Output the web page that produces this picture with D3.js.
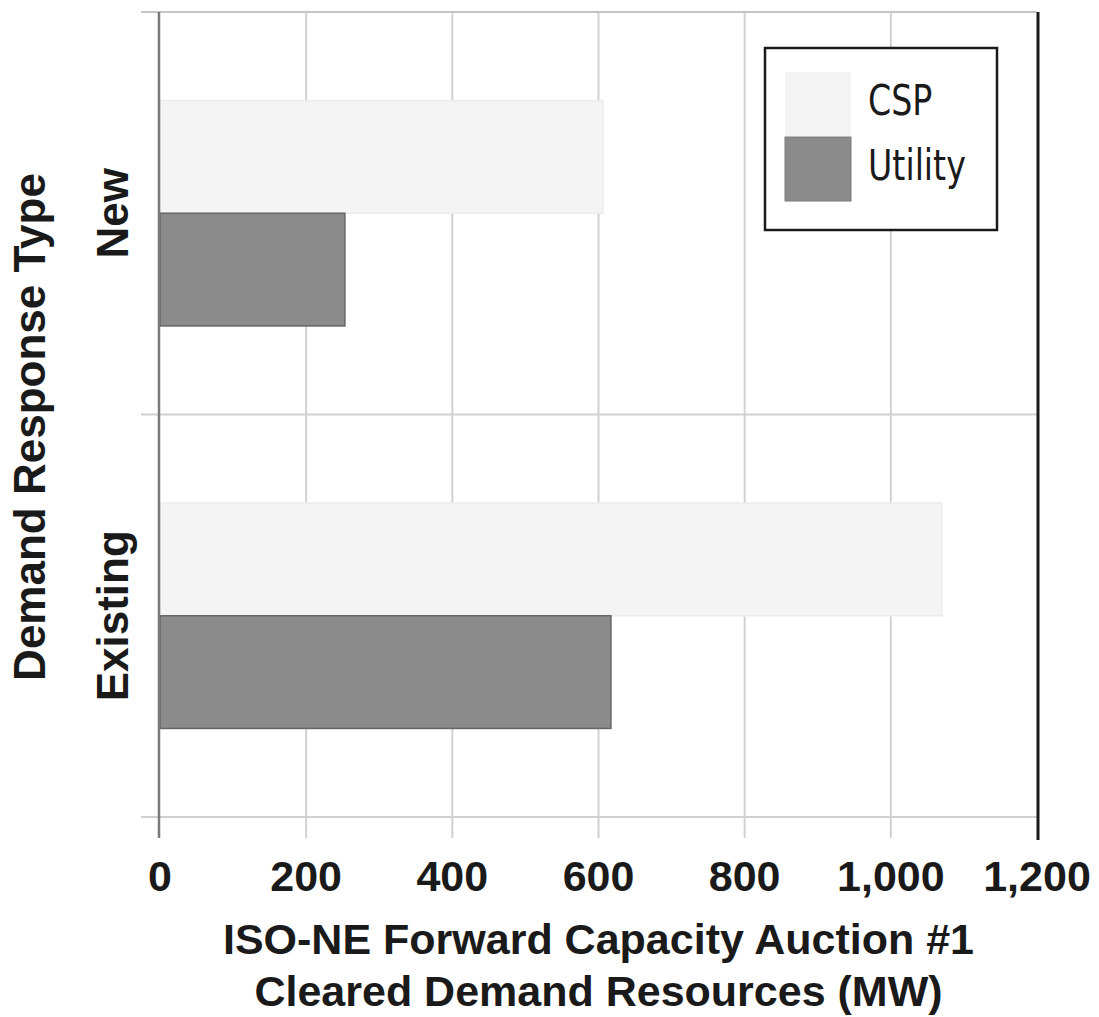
<!DOCTYPE html>
<html>
<head>
<meta charset="utf-8">
<script src="https://cdn.jsdelivr.net/npm/d3@7"></script>
<style>
  html, body { margin: 0; padding: 0; background: #fff; }
  svg { display: block; }
</style>
</head>
<body>
<svg id="chart" width="1099" height="1017"></svg>
<script>
// Cleared demand resources (MW) by demand response type
const categories = ["New", "Existing"];
const seriesNames = ["CSP", "Utility"];
const cspValues = [606, 1070];
const utilityValues = [253, 617];
const xTicks = [0, 200, 400, 600, 800, 1000, 1200];
const xTickLabels = ["0", "200", "400", "600", "800", "1,000", "1,200"];
const xTitle = ["ISO-NE Forward Capacity Auction #1", "Cleared Demand Resources (MW)"];
const yTitle = "Demand Response Type";

const colors = { CSP: "#f4f4f4", Utility: "#8b8b8b" };
const strokes = { CSP: "#ececec", Utility: "#666" };

const rows = categories.map((c, i) => ({
  category: c,
  values: [
    { key: "CSP", value: cspValues[i] },
    { key: "Utility", value: utilityValues[i] }
  ]
}));

const svg = d3.select("#chart");
const plotLeft = 160, plotRight = 1037, plotTop = 12, plotBottom = 817;

const x = d3.scaleLinear().domain([0, 1200]).range([plotLeft, plotRight]);
const y = d3.scaleBand().domain(categories).range([plotTop, plotBottom])
  .paddingInner(0.44).paddingOuter(0.22);
const ySub = d3.scaleBand().domain(seriesNames).range([0, y.bandwidth()]).padding(0);

const boldFont = "'Liberation Sans', Arial, Helvetica, sans-serif";

// vertical grid lines (extend below the plot as ticks)
svg.append("g").selectAll("line").data(xTicks.slice(1, -1)).join("line")
  .attr("x1", d => x(d)).attr("x2", d => x(d))
  .attr("y1", plotTop).attr("y2", plotBottom + 21)
  .attr("stroke", "#d2d2d2").attr("stroke-width", 2);

// horizontal category separators (extend left as ticks)
const sepYs = [plotTop, (y("New") + y.bandwidth() + y("Existing")) / 2, plotBottom];
svg.append("g").selectAll("line").data(sepYs).join("line")
  .attr("x1", plotLeft - 19).attr("x2", plotRight)
  .attr("y1", d => d).attr("y2", d => d)
  .attr("stroke", d => d === plotTop ? "#c4c4c4" : "#cfcfcf").attr("stroke-width", 2);

// bars
const groups = svg.append("g").selectAll("g").data(rows).join("g")
  .attr("transform", d => `translate(0,${y(d.category)})`);
groups.selectAll("rect").data(d => d.values).join("rect")
  .attr("x", x(0))
  .attr("y", d => ySub(d.key))
  .attr("width", d => x(d.value) - x(0))
  .attr("height", ySub.bandwidth())
  .attr("fill", d => colors[d.key])
  .attr("stroke", d => strokes[d.key])
  .attr("stroke-width", 1.5);

// left axis line
svg.append("line")
  .attr("x1", plotLeft - 1).attr("x2", plotLeft - 1)
  .attr("y1", plotTop).attr("y2", plotBottom + 21)
  .attr("stroke", "#7a7a7a").attr("stroke-width", 2.5);

// right frame line
svg.append("line")
  .attr("x1", plotRight + 1).attr("x2", plotRight + 1)
  .attr("y1", plotTop).attr("y2", plotBottom + 23)
  .attr("stroke", "#1a1a1a").attr("stroke-width", 3);

// x axis tick labels
svg.append("g").selectAll("text").data(xTicks).join("text")
  .attr("x", d => x(d)).attr("y", 891)
  .attr("text-anchor", "middle")
  .attr("font-family", boldFont).attr("font-weight", "bold")
  .attr("font-size", 43).attr("fill", "#1a1a1a")
  .text((d, i) => xTickLabels[i]);

// x axis title
svg.append("g").selectAll("text").data(xTitle).join("text")
  .attr("x", (plotLeft + plotRight) / 2).attr("y", (d, i) => 954 + i * 52)
  .attr("text-anchor", "middle")
  .attr("font-family", boldFont).attr("font-weight", "bold")
  .attr("font-size", 43).attr("fill", "#1a1a1a")
  .text(d => d);

// category labels (rotated)
svg.append("g").selectAll("text").data(categories).join("text")
  .attr("transform", d => `translate(128,${y(d) + y.bandwidth() / 2}) rotate(-90)`)
  .attr("text-anchor", "middle")
  .attr("font-family", boldFont).attr("font-weight", "bold")
  .attr("font-size", 44).attr("fill", "#1a1a1a")
  .text(d => d);

// y axis title
svg.append("text")
  .attr("transform", "translate(45,427) rotate(-90)")
  .attr("text-anchor", "middle")
  .attr("font-family", boldFont).attr("font-weight", "bold")
  .attr("font-size", 44).attr("fill", "#1a1a1a")
  .text(yTitle);

// legend
const legend = svg.append("g").attr("transform", "translate(765,48)");
legend.append("rect")
  .attr("x", 0).attr("y", 0).attr("width", 232).attr("height", 182)
  .attr("fill", "#fff").attr("stroke", "#1a1a1a").attr("stroke-width", 2.5);
const items = legend.selectAll("g.item").data(seriesNames).join("g")
  .attr("class", "item")
  .attr("transform", (d, i) => `translate(20,${24 + i * 65})`);
items.append("rect")
  .attr("width", 66).attr("height", 64)
  .attr("fill", d => colors[d])
  .attr("stroke", d => d === "CSP" ? "none" : "#7a7a7a")
  .attr("stroke-width", 1);
items.append("text")
  .attr("transform", "translate(83,43) scale(0.86,1)")
  .attr("font-family", "'Liberation Sans Narrow', 'DejaVu Sans Condensed', sans-serif")
  .attr("font-size", 43).attr("fill", "#1a1a1a")
  .text(d => d);
</script>
</body>
</html>
